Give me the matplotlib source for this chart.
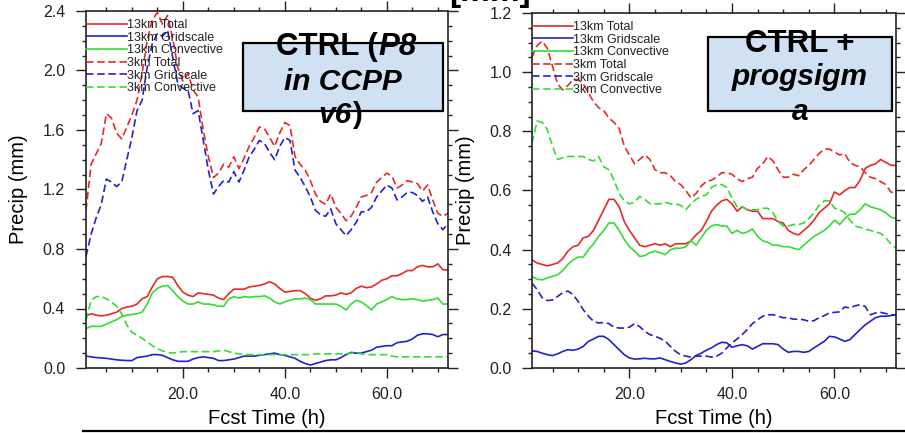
import numpy as np
import matplotlib
matplotlib.use("Agg")
import matplotlib.pyplot as plt
from matplotlib.patches import Rectangle
from matplotlib.lines import Line2D
from matplotlib.ticker import MultipleLocator, FormatStrFormatter

plt.rcParams['font.family'] = ['Liberation Sans', 'DejaVu Sans']

hours = np.arange(1, 73)

# ---- left panel: CTRL (P8 in CCPP v6) ----
l_13_total = [0.35, 0.365, 0.355, 0.35, 0.355, 0.365, 0.375, 0.40, 0.41, 0.415,
              0.43, 0.465, 0.48, 0.545, 0.60, 0.615, 0.615, 0.61, 0.555, 0.51,
              0.49, 0.48, 0.505, 0.50, 0.495, 0.49, 0.47, 0.46, 0.50, 0.53,
              0.53, 0.53, 0.545, 0.55, 0.555, 0.565, 0.58, 0.565, 0.535, 0.51,
              0.515, 0.52, 0.52, 0.50, 0.47, 0.455, 0.465, 0.485, 0.485, 0.49,
              0.505, 0.495, 0.505, 0.535, 0.55, 0.54, 0.545, 0.565, 0.59, 0.60,
              0.62, 0.62, 0.635, 0.655, 0.655, 0.68, 0.69, 0.68, 0.68, 0.70,
              0.66, 0.66]
l_13_grid = [0.08, 0.075, 0.07, 0.068, 0.065, 0.06, 0.055, 0.052, 0.05, 0.05,
             0.07, 0.075, 0.08, 0.09, 0.09, 0.085, 0.07, 0.055, 0.045, 0.045,
             0.045, 0.06, 0.07, 0.075, 0.07, 0.065, 0.05, 0.05, 0.055, 0.06,
             0.07, 0.08, 0.08, 0.08, 0.085, 0.09, 0.095, 0.10, 0.09, 0.085,
             0.075, 0.065, 0.045, 0.03, 0.02, 0.03, 0.04, 0.05, 0.055, 0.055,
             0.07, 0.09, 0.105, 0.10, 0.10, 0.11, 0.12, 0.14, 0.145, 0.15,
             0.15, 0.17, 0.175, 0.18, 0.195, 0.22, 0.23, 0.23, 0.225, 0.21,
             0.225, 0.225]
l_13_conv = [0.265, 0.28, 0.28, 0.28, 0.295, 0.31, 0.325, 0.345, 0.355, 0.36,
             0.365, 0.375, 0.43, 0.505, 0.535, 0.55, 0.555, 0.52, 0.48, 0.45,
             0.43, 0.43, 0.445, 0.43, 0.43, 0.425, 0.415, 0.415, 0.465, 0.48,
             0.47, 0.48, 0.475, 0.48, 0.48, 0.485, 0.47, 0.445, 0.43, 0.445,
             0.455, 0.465, 0.465, 0.47, 0.46, 0.43, 0.43, 0.43, 0.43, 0.43,
             0.415, 0.39, 0.43, 0.455, 0.445, 0.42, 0.39, 0.43, 0.445, 0.46,
             0.48, 0.465, 0.46, 0.46, 0.465, 0.46, 0.45, 0.455, 0.46, 0.47,
             0.43, 0.43]
l_3_total = [1.06, 1.37, 1.44, 1.51, 1.71, 1.68, 1.58, 1.54, 1.62, 1.70,
             1.80, 1.98, 2.20, 2.34, 2.39, 2.31, 2.37, 2.22, 2.02, 1.93,
             1.98, 1.87, 1.82, 1.60, 1.42, 1.28, 1.31, 1.37, 1.35, 1.42,
             1.34, 1.41, 1.49, 1.55, 1.62, 1.61, 1.55, 1.49, 1.58, 1.65,
             1.63, 1.42, 1.37, 1.33, 1.26, 1.17, 1.12, 1.10, 1.17, 1.08,
             1.04, 0.99, 1.02, 1.08, 1.15, 1.16, 1.18, 1.25, 1.28, 1.31,
             1.29, 1.21, 1.23, 1.26, 1.25, 1.24, 1.19, 1.23, 1.13, 1.04,
             1.02, 1.04]
l_3_grid = [0.75, 0.90, 1.01, 1.10, 1.27, 1.25, 1.22, 1.25, 1.40, 1.55,
            1.73, 1.80, 2.02, 2.18, 2.25, 2.23, 2.27, 2.09, 1.91, 1.88,
            1.87, 1.71, 1.73, 1.53, 1.33, 1.17, 1.22, 1.26, 1.25, 1.32,
            1.25, 1.33, 1.42, 1.47, 1.53, 1.51, 1.45, 1.40, 1.49, 1.55,
            1.53, 1.33, 1.28, 1.22, 1.15, 1.06, 1.03, 1.02, 1.07, 0.97,
            0.93, 0.89, 0.93, 0.98, 1.05, 1.05, 1.08, 1.15, 1.19, 1.23,
            1.21, 1.13, 1.15, 1.18, 1.18, 1.16, 1.12, 1.15, 1.05, 0.97,
            0.93, 0.97]
l_3_conv = [0.32, 0.455, 0.48, 0.48, 0.465, 0.445, 0.415, 0.365, 0.29, 0.24,
            0.22, 0.20, 0.175, 0.15, 0.13, 0.115, 0.105, 0.10, 0.105, 0.11,
            0.11, 0.11, 0.11, 0.11, 0.11, 0.11, 0.115, 0.12, 0.11, 0.10,
            0.095, 0.09, 0.09, 0.09, 0.09, 0.09, 0.09, 0.09, 0.09, 0.09,
            0.09, 0.09, 0.09, 0.09, 0.09, 0.095, 0.095, 0.095, 0.095, 0.095,
            0.095, 0.095, 0.10, 0.10, 0.095, 0.09, 0.09, 0.09, 0.09, 0.09,
            0.08, 0.075, 0.075, 0.075, 0.075, 0.075, 0.075, 0.075, 0.075, 0.075,
            0.075, 0.075]

# ---- right panel: CTRL + progsigma ----
r_13_total = [0.365, 0.355, 0.35, 0.345, 0.35, 0.355, 0.37, 0.395, 0.41, 0.415,
              0.44, 0.445, 0.465, 0.50, 0.535, 0.57, 0.57, 0.545, 0.495, 0.465,
              0.44, 0.415, 0.41, 0.415, 0.42, 0.415, 0.42, 0.41, 0.42, 0.42,
              0.42, 0.43, 0.45, 0.465, 0.495, 0.53, 0.55, 0.565, 0.57, 0.555,
              0.53, 0.545, 0.535, 0.53, 0.53, 0.505, 0.505, 0.505, 0.495, 0.49,
              0.465, 0.455, 0.45, 0.465, 0.48, 0.50, 0.525, 0.54, 0.555, 0.595,
              0.585, 0.60, 0.61, 0.61, 0.635, 0.675, 0.685, 0.69, 0.705, 0.695,
              0.685, 0.685]
r_13_grid = [0.058, 0.056, 0.05, 0.045, 0.042, 0.048, 0.056, 0.062, 0.06, 0.064,
             0.073, 0.09, 0.098, 0.107, 0.107, 0.096, 0.079, 0.062, 0.045, 0.034,
             0.03, 0.031, 0.033, 0.031, 0.031, 0.034, 0.028, 0.022, 0.017, 0.013,
             0.017, 0.028, 0.042, 0.05, 0.06, 0.068, 0.079, 0.087, 0.085, 0.07,
             0.075, 0.079, 0.075, 0.064, 0.073, 0.082, 0.082, 0.082, 0.079, 0.064,
             0.053, 0.056, 0.056, 0.053, 0.056, 0.068, 0.079, 0.09, 0.107, 0.105,
             0.098, 0.09, 0.096, 0.113, 0.13, 0.146, 0.158, 0.17, 0.175, 0.175,
             0.177, 0.18]
r_13_conv = [0.31, 0.30, 0.298, 0.305, 0.31, 0.315, 0.33, 0.35, 0.365, 0.375,
             0.375, 0.40, 0.42, 0.445, 0.465, 0.49, 0.49, 0.465, 0.435, 0.41,
             0.395, 0.377, 0.38, 0.39, 0.395, 0.39, 0.383, 0.40, 0.405, 0.405,
             0.41, 0.43, 0.415, 0.44, 0.465, 0.48, 0.485, 0.48, 0.48, 0.455,
             0.465, 0.455, 0.46, 0.47, 0.445, 0.43, 0.425, 0.415, 0.415, 0.41,
             0.41, 0.405, 0.40, 0.415, 0.43, 0.445, 0.455, 0.465, 0.48, 0.50,
             0.485, 0.505, 0.52, 0.52, 0.535, 0.555, 0.545, 0.54, 0.535, 0.525,
             0.51, 0.505]
r_3_total = [1.05, 1.09, 1.105, 1.08, 1.02, 0.96, 0.94, 0.955, 0.975, 0.975,
             0.96, 0.93, 0.90, 0.88, 0.87, 0.845, 0.83, 0.81, 0.75, 0.72,
             0.69, 0.705, 0.72, 0.705, 0.67, 0.66, 0.66, 0.65, 0.63, 0.62,
             0.60, 0.575, 0.59, 0.615, 0.63, 0.635, 0.645, 0.66, 0.66, 0.655,
             0.64, 0.63, 0.64, 0.645, 0.675, 0.69, 0.715, 0.70, 0.67, 0.645,
             0.645, 0.655, 0.65, 0.67, 0.685, 0.705, 0.725, 0.74, 0.74, 0.73,
             0.72, 0.725, 0.695, 0.685, 0.68, 0.66, 0.645, 0.64, 0.63, 0.62,
             0.595, 0.59]
r_3_grid = [0.287, 0.265, 0.237, 0.228, 0.23, 0.242, 0.255, 0.26, 0.248, 0.225,
            0.197, 0.175, 0.158, 0.152, 0.154, 0.15, 0.138, 0.135, 0.135, 0.138,
            0.15, 0.14, 0.124, 0.113, 0.107, 0.10, 0.09, 0.073, 0.056, 0.045,
            0.04, 0.037, 0.04, 0.04, 0.04, 0.037, 0.04, 0.05, 0.068, 0.085,
            0.098, 0.113, 0.13, 0.15, 0.163, 0.175, 0.18, 0.18, 0.175, 0.17,
            0.17, 0.165, 0.165, 0.163, 0.158, 0.16, 0.17, 0.177, 0.186, 0.188,
            0.19, 0.206, 0.203, 0.21, 0.214, 0.208, 0.18, 0.186, 0.188, 0.184,
            0.18, 0.18]
r_3_conv = [0.76, 0.835, 0.83, 0.805, 0.75, 0.705, 0.71, 0.715, 0.715, 0.715,
            0.715, 0.705, 0.70, 0.715, 0.68, 0.67, 0.635, 0.59, 0.565, 0.555,
            0.56, 0.58, 0.57, 0.555, 0.555, 0.555, 0.56, 0.555, 0.555, 0.55,
            0.535, 0.555, 0.57, 0.58, 0.585, 0.61, 0.62, 0.62, 0.61, 0.575,
            0.545, 0.545, 0.535, 0.535, 0.535, 0.54, 0.54, 0.525, 0.495, 0.48,
            0.48, 0.485, 0.485, 0.49, 0.505, 0.525, 0.55, 0.565, 0.565, 0.54,
            0.535, 0.525, 0.50, 0.48, 0.475, 0.47, 0.465, 0.46, 0.455, 0.44,
            0.42, 0.405]

labels = ['13km Total', '13km Gridscale', '13km Convective',
          '3km Total', '3km Gridscale', '3km Convective']
colors = ['#e52a2a', '#2222cc', '#33dd33']

W, H = 905, 433
fig = plt.figure(figsize=(W / 100, H / 100), dpi=100)


def px_axes(x0, y0, x1, y1):
    return fig.add_axes([x0 / W, 1 - y1 / H, (x1 - x0) / W, (y1 - y0) / H])


def style_axes(ax, ymax, ymaj, ymin, ypad):
    ax.set_xlim(1, 72)
    ax.set_ylim(0, ymax)
    ax.xaxis.set_major_locator(MultipleLocator(20))
    ax.xaxis.set_minor_locator(MultipleLocator(5))
    ax.yaxis.set_major_locator(MultipleLocator(ymaj))
    ax.yaxis.set_minor_locator(MultipleLocator(ymin))
    ax.xaxis.set_major_formatter(FormatStrFormatter('%.1f'))
    ax.yaxis.set_major_formatter(FormatStrFormatter('%.1f'))
    ax.tick_params(which='both', direction='out', top=True, right=True,
                   colors='#222222', width=1.0)
    ax.tick_params(which='major', length=7, labelsize=11.5)
    ax.tick_params(which='minor', length=3.2)
    ax.tick_params(axis='x', which='major', pad=6.5)
    ax.tick_params(axis='y', which='major', pad=ypad)
    for s in ax.spines.values():
        s.set_linewidth(1.2)
        s.set_color('#222222')
    ax.set_xlabel('Fcst Time (h)', fontsize=14.5)
    ax.set_ylabel('Precip (mm)', fontsize=14.5)
    ax.xaxis.set_label_coords(0.5, -0.115)


def draw_series(ax, series):
    lines = []
    for i, ys in enumerate(series[:3]):
        ln, = ax.plot(hours, ys, color=colors[i], lw=1.2)
        lines.append(ln)
    for i, ys in enumerate(series[3:]):
        ln, = ax.plot(hours, ys, color=colors[i], lw=1.2, dashes=(4.5, 2.2))
        lines.append(ln)
    ax.legend(lines, labels, loc='upper left', bbox_to_anchor=(0.0, 0.977),
              frameon=False, fontsize=9, handlelength=3.3, handletextpad=0.0,
              labelspacing=0.05, borderpad=0.0, borderaxespad=0.0,
              labelcolor='#222222')


ax1 = px_axes(86, 11, 448, 368)
draw_series(ax1, [l_13_total, l_13_grid, l_13_conv, l_3_total, l_3_grid, l_3_conv])
style_axes(ax1, 2.4, 0.4, 0.1, 8)
ax1.yaxis.set_label_coords(-0.160, 0.5)

ax2 = px_axes(532, 13, 896, 368)
draw_series(ax2, [r_13_total, r_13_grid, r_13_conv, r_3_total, r_3_grid, r_3_conv])
style_axes(ax2, 1.2, 0.2, 0.05, 7.5)
ax2.yaxis.set_label_coords(-0.157, 0.5)


# title boxes (text spills over the box edges, as in the slide)
def box(x0, y0, x1, y1):
    fig.add_artist(Rectangle((x0 / W, 1 - y1 / H), (x1 - x0) / W, (y1 - y0) / H,
                             transform=fig.transFigure, facecolor='#cfe1f2',
                             edgecolor='black', lw=1.6, zorder=5))


def ftext(x, y, s, size=21.5, **kw):
    fig.text(x / W, 1 - y / H, s, va='baseline', fontsize=size,
             fontweight='bold', zorder=6, **kw)


box(243, 43, 443, 111)
ftext(378, 55, 'CTRL (', ha='right', size=22.5)
ftext(378, 55, 'P8', ha='left', style='italic', size=22.5)
ftext(343, 90, 'in CCPP', ha='center', style='italic')
ftext(352, 123, 'v6', ha='right', style='italic')
ftext(352, 123, ')', ha='left')

box(708, 37, 892, 111)
ftext(800, 52, 'CTRL +', ha='center', size=22.5)
ftext(800, 85, 'progsigm', ha='center', style='italic')
ftext(800, 120, 'a', ha='center', style='italic')

# cut-off slide title fragment and rule under the plots
fig.text(490 / W, 1 - 1 / H, '[mm]', ha='center', va='baseline',
         fontsize=24, fontweight='bold')
fig.add_artist(Line2D([83 / W, 1.0], [1 - 431 / H, 1 - 431 / H],
                      transform=fig.transFigure, color='black', lw=1.6))

fig.savefig('out.png', dpi=100)
